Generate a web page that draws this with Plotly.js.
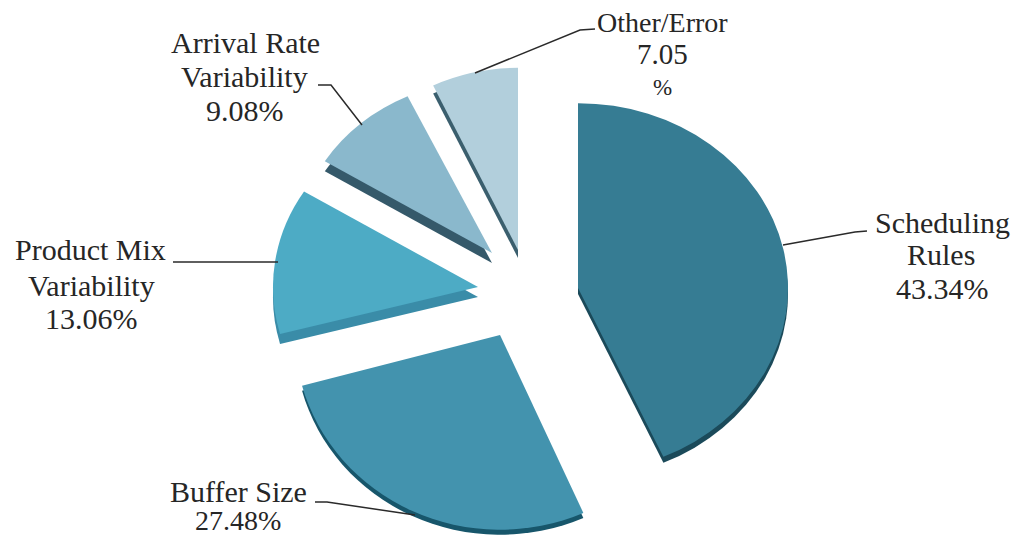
<!DOCTYPE html>
<html>
<head>
<meta charset="utf-8">
<script src="https://cdn.plot.ly/plotly-3.0.1.min.js"></script>
<style>
  html, body { margin: 0; padding: 0; width: 1013px; height: 539px; overflow: hidden; background: #fff; }
  #chart { width: 1013px; height: 620px; }
</style>
</head>
<body>
<div id="chart"></div>
<script>
// Shares of throughput-loss causes, percent
const categories = ["Scheduling Rules", "Buffer Size", "Product Mix Variability", "Arrival Rate Variability", "Other/Error"];
const shares = [43.34, 27.48, 13.06, 9.08, 7.05];
const labelLines = [
  "Scheduling", "Rules", "43.34%",
  "Buffer Size", "27.48%",
  "Product Mix", "Variability", "13.06%",
  "Arrival Rate", "Variability", "9.08%",
  "Other/Error", "7.05", "%"
];

// Slice styling and exploded placement, in page pixels
const faceColors = ["#367c93", "#4393ae", "#4dabc5", "#8ab8cc", "#b2cfdc"];
const edgeColors = ["#1b4a5a", "#17566b", "#3a8ca8", "#35596a", "#3b5f6e"];
const apexX = [578, 500, 478, 492, 518];
const apexY = [288, 335, 287, 253, 250];
const radii = [210, 205, 205, 197, 198];
const tilts = [0.88, 0.95, 0.88, 0.88, 0.92];
const edgeY = [6, 5, 10, 10, 8];

// Label and leader placement, in page pixels
const lineX = [942, 941, 942, 238, 238, 90, 91, 91, 245, 244, 245, 662, 662, 662];
const lineY = [222, 254, 288, 491, 520, 250, 285, 318, 43, 77, 110, 22, 54, 87];
const lineSize = [30, 30, 30, 30, 28, 30, 30, 30, 30, 30, 30, 28, 29, 23];
const leaders = [
  "M783,245 L855,232 L867,231",
  "M315,502 L327,502 L415,515",
  "M173,262 L278,262",
  "M362,125 L331,85 L318,85",
  "M475,73 L580,30 L595,29"
];

const W = 1013, H = 620;
const total = shares.reduce((a, b) => a + b, 0);
const px = x => x / W;
const py = y => 1 - y / H;

// One pie per slice, so each wedge can be exploded to its own apex
function wedge(i, color, dy) {
  const start = shares.slice(0, i).reduce((a, b) => a + b, 0) / total * 360;
  const cx = apexX[i], cy = (apexY[i] + dy) / tilts[i], r = radii[i];
  return {
    type: "pie",
    values: [shares[i], total - shares[i]],
    labels: [categories[i], "rest"],
    sort: false,
    direction: "clockwise",
    rotation: start,
    textinfo: "none",
    hoverinfo: "skip",
    showlegend: false,
    marker: { colors: [color, "rgba(0,0,0,0)"], line: { width: 0 } },
    domain: { x: [px(cx - r), px(cx + r)], y: [py(cy + r), py(cy - r)] }
  };
}

const traces = [];
shares.forEach((_, i) => traces.push(wedge(i, edgeColors[i], edgeY[i])));
shares.forEach((_, i) => traces.push(wedge(i, faceColors[i], 0)));
const traceTilts = tilts.concat(tilts);

const toPaperPath = d => d.replace(/(-?\d+),(-?\d+)/g, (_, x, y) => `${px(+x)},${py(+y)}`);

const layout = {
  width: W,
  height: H,
  margin: { l: 0, r: 0, t: 0, b: 0 },
  paper_bgcolor: "#ffffff",
  showlegend: false,
  annotations: labelLines.map((t, i) => ({
    text: t,
    xref: "paper", yref: "paper",
    x: px(lineX[i]), y: py(lineY[i]),
    xanchor: "center", yanchor: "middle", align: "center",
    showarrow: false,
    font: { family: "'Liberation Serif', serif", size: lineSize[i], color: "#262626" }
  })),
  shapes: leaders.map(d => ({
    type: "path",
    xref: "paper", yref: "paper",
    path: toPaperPath(d),
    line: { color: "#2a2a2a", width: 1.5 },
    layer: "above"
  }))
};

Plotly.newPlot("chart", traces, layout, { displayModeBar: false, staticPlot: true }).then(gd => {
  // Flatten each disc into the tilted ellipse of a perspective pie
  gd.querySelectorAll(".pielayer .trace").forEach((g, i) => {
    g.setAttribute("transform", `scale(1,${traceTilts[i]})`);
  });
});
</script>
</body>
</html>
